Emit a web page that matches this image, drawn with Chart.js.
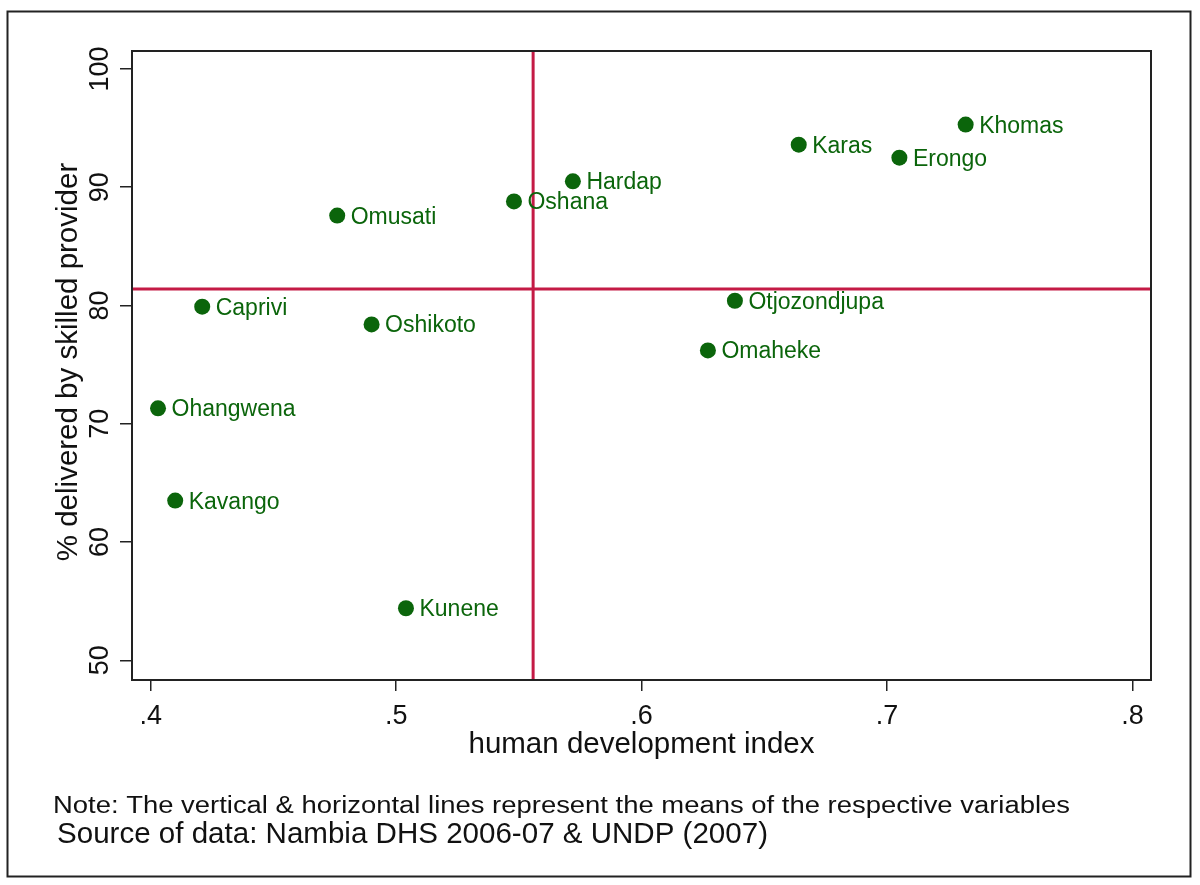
<!DOCTYPE html>
<html>
<head>
<meta charset="utf-8">
<title>Skilled delivery vs HDI, Namibia regions</title>
<script src="https://cdn.jsdelivr.net/npm/chart.js@4.4.0/dist/chart.umd.min.js"></script>
<style>
  html, body { margin: 0; padding: 0; background: #fff; }
  #wrap { width: 1200px; height: 885px; }
</style>
</head>
<body>
<div id="wrap"><canvas id="hdiChart" width="1200" height="885"></canvas></div>
<script>
// ---- data ----
const regions = ['Khomas','Karas','Erongo','Hardap','Oshana','Omusati','Caprivi',
                 'Otjozondjupa','Oshikoto','Omaheke','Ohangwena','Kavango','Kunene'];
const hdiValues = [0.732, 0.664, 0.705, 0.572, 0.548, 0.476, 0.421,
                   0.638, 0.490, 0.627, 0.403, 0.410, 0.504];
const skilledValues = [95.3, 93.6, 92.5, 90.5, 88.8, 87.6, 79.9,
                       80.4, 78.4, 76.2, 71.3, 63.5, 54.4];
const meanHdi = 0.5558;
const meanSkilled = 81.4;
const xTicks = [0.4, 0.5, 0.6, 0.7, 0.8];
const yTicks = [50, 60, 70, 80, 90, 100];
const X_MIN = 0.3924, X_MAX = 0.8075;
const Y_MIN = 48.33, Y_MAX = 101.52;

const FONT = '"Liberation Sans", Arial, Helvetica, sans-serif';
const GREEN = '#0b650b';
const RED = '#c41a45';

const fmtX = v => v.toFixed(1).replace(/^0/, '');

// draws the frame, tick labels, titles, point labels and notes
const decorPlugin = {
    id: 'decor',
    beforeDraw(chart) {
        const ctx = chart.ctx;
        ctx.save();
        ctx.fillStyle = '#fff';
        ctx.fillRect(0, 0, chart.width, chart.height);
        ctx.restore();
    },
    afterDraw(chart) {
        const ctx = chart.ctx;
        const a = chart.chartArea;
        const xs = chart.scales.x, ys = chart.scales.y;
        ctx.save();

        // outer frame + plot box
        ctx.strokeStyle = '#222';
        ctx.lineWidth = 2;
        ctx.strokeRect(7.5, 11.5, 1183, 865);
        ctx.strokeRect(a.left, a.top, a.right - a.left, a.bottom - a.top);

        ctx.fillStyle = '#111';
        // x tick labels
        ctx.font = '27px ' + FONT;
        ctx.textAlign = 'center';
        ctx.textBaseline = 'alphabetic';
        xs.ticks.forEach(t => {
            ctx.fillText(fmtX(t.value), xs.getPixelForValue(t.value), 724);
        });
        // y tick labels (rotated)
        ys.ticks.forEach(t => {
            ctx.save();
            ctx.translate(108, ys.getPixelForValue(t.value));
            ctx.rotate(-Math.PI / 2);
            ctx.fillText(String(t.value), 0, 0);
            ctx.restore();
        });

        // axis titles
        ctx.font = '29.5px ' + FONT;
        ctx.fillText('human development index', (a.left + a.right) / 2, 753);
        ctx.save();
        ctx.translate(77, 362);
        ctx.rotate(-Math.PI / 2);
        ctx.fillText('% delivered by skilled provider', 0, 0);
        ctx.restore();

        // point labels
        const meta = chart.getDatasetMeta(2);
        ctx.font = '23px ' + FONT;
        ctx.fillStyle = GREEN;
        ctx.textAlign = 'left';
        meta.data.forEach((pt, i) => {
            ctx.fillText(regions[i], pt.x + 13.5, pt.y + 8);
        });

        // notes, fitted to the width they take in the original
        ctx.fillStyle = '#111';
        const fitText = (txt, x, y, size, w) => {
            ctx.font = size + 'px ' + FONT;
            const m = ctx.measureText(txt).width;
            ctx.save();
            ctx.translate(x, y);
            ctx.scale(w / m, 1);
            ctx.fillText(txt, 0, 0);
            ctx.restore();
        };
        fitText('Note: The vertical & horizontal lines represent the means of the respective variables', 53, 813, 23, 1017);
        fitText('Source of data: Nambia DHS 2006-07 & UNDP (2007)', 57, 843, 29, 711);
        ctx.restore();
    }
};

const points = hdiValues.map((x, i) => ({ x, y: skilledValues[i] }));

new Chart(document.getElementById('hdiChart'), {
    type: 'scatter',
    data: {
        datasets: [
            {
                type: 'line',
                data: [{ x: meanHdi, y: Y_MIN }, { x: meanHdi, y: Y_MAX }],
                borderColor: RED, borderWidth: 3, pointRadius: 0, fill: false, order: 3
            },
            {
                type: 'line',
                data: [{ x: X_MIN, y: meanSkilled }, { x: X_MAX, y: meanSkilled }],
                borderColor: RED, borderWidth: 3, pointRadius: 0, fill: false, order: 2
            },
            {
                data: points,
                backgroundColor: GREEN, borderWidth: 0, pointRadius: 8, order: 1
            }
        ]
    },
    options: {
        responsive: false,
        animation: false,
        devicePixelRatio: 1,
        layout: { padding: { left: 0, top: 51, right: 49, bottom: 0 } },
        plugins: { legend: { display: false }, tooltip: { enabled: false } },
        scales: {
            x: {
                type: 'linear', min: X_MIN, max: X_MAX,
                afterBuildTicks: s => { s.ticks = xTicks.map(v => ({ value: v })); },
                afterFit: s => { s.height = 205; },
                ticks: { display: false },
                border: { display: false },
                grid: { drawOnChartArea: false, drawTicks: true, tickLength: 11, color: '#222', lineWidth: 1.5 }
            },
            y: {
                type: 'linear', min: Y_MIN, max: Y_MAX,
                afterBuildTicks: s => { s.ticks = yTicks.map(v => ({ value: v })); },
                afterFit: s => { s.width = 132; },
                ticks: { display: false },
                border: { display: false },
                grid: { drawOnChartArea: false, drawTicks: true, tickLength: 12, color: '#222', lineWidth: 1.5 }
            }
        }
    },
    plugins: [decorPlugin]
});
</script>
</body>
</html>
